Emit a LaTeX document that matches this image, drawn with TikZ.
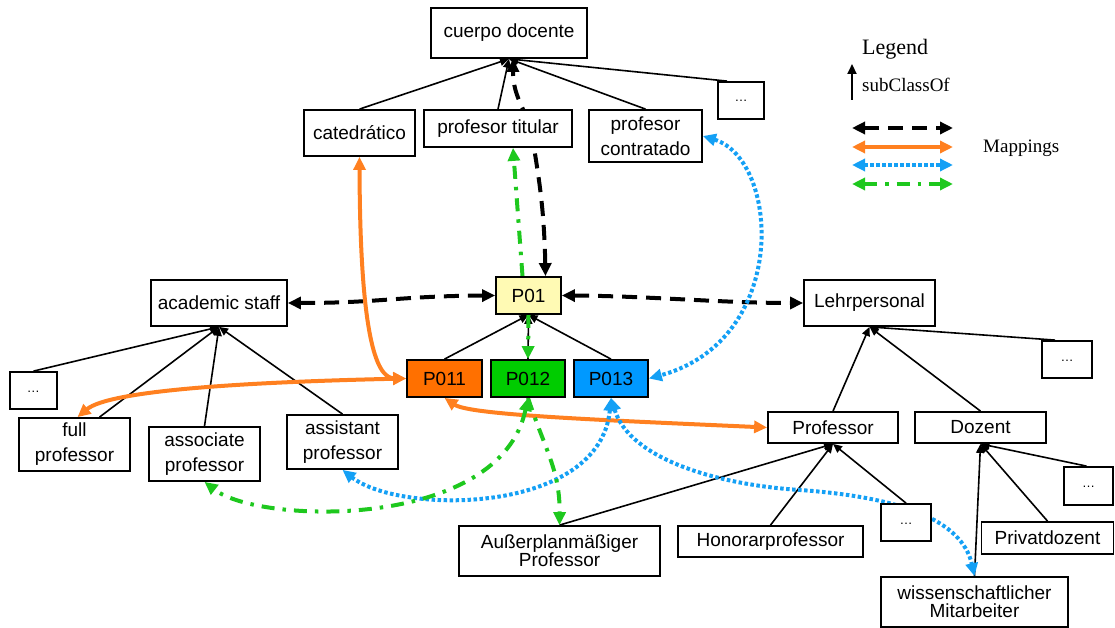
\documentclass[tikz,border=0pt]{standalone}
\usepackage{fontspec}
\setmainfont{Liberation Serif}
\newfontfamily\arialf{Liberation Sans}
\usetikzlibrary{arrows.meta,calc,backgrounds}
\definecolor{pyellow}{RGB}{255,250,180}
\definecolor{porange}{RGB}{255,112,0}
\definecolor{pgreen}{RGB}{0,204,0}
\definecolor{pblue}{RGB}{0,153,255}
\definecolor{lorange}{RGB}{255,128,32}
\definecolor{lblue}{RGB}{20,160,245}
\definecolor{lgreen}{RGB}{30,200,30}
\tikzset{
 box/.style={draw=black, line width=1.8pt, fill=white, inner sep=0pt, align=center, font=\arialf\fontsize{19}{25}\selectfont},
 tbox/.style={box, font=\arialf\fontsize{19}{18}\selectfont},
 dbox/.style={box, font=\arialf\fontsize{13}{15}\selectfont},
 sub/.style={line width=1.6pt, -{Triangle[length=9pt,width=8pt]}},
 tipb/.style={arrows={Triangle[length=13pt,width=12pt]-Triangle[length=13pt,width=12pt]}},
 tipe/.style={arrows={-Triangle[length=13pt,width=12pt]}},
 mblack/.style={line width=4pt, dash pattern=on 15pt off 9pt, black},
 morange/.style={line width=4pt, lorange},
 mblue/.style={line width=4pt, dash pattern=on 3.5pt off 2.5pt, lblue},
 mgreen/.style={line width=4pt, dash pattern=on 13pt off 8pt on 3.5pt off 8pt, lgreen},
 legtext/.style={anchor=base west, inner sep=0pt, font=\fontsize{19}{22}\selectfont},
}
\begin{document}
\begin{tikzpicture}[x=1pt,y=-1pt]
\useasboundingbox (0,0) rectangle (1115,628);
% top ontology
\node[box, minimum width=156pt, minimum height=50pt] (cd) at (509,33) {cuerpo docente};
\node[box, minimum width=111pt, minimum height=46pt] (cat) at (359.5,133) {catedrático};
\node[box, minimum width=148pt, minimum height=37pt] (tit) at (498,128.5) {profesor titular};
\node[box, minimum width=113pt, minimum height=52pt] (con) at (645.5,136) {profesor\\contratado};
\node[dbox, minimum width=46pt, minimum height=37pt] (dots1) at (741,100.5) {\raisebox{-3pt}{\ldots}};
% left ontology
\node[box, minimum width=136pt, minimum height=46pt] (acs) at (219,303) {academic staff};
\node[dbox, minimum width=47pt, minimum height=37pt] (dotsL) at (33.5,390.5) {\raisebox{-3pt}{\ldots}};
\node[box, minimum width=111pt, minimum height=53pt] (full) at (74.5,444.5) {full\\professor};
\node[box, minimum width=111pt, minimum height=54pt] (assoc) at (204.5,454) {associate\\professor};
\node[box, minimum width=111pt, minimum height=54pt] (assist) at (342.5,442) {assistant\\professor};
% central
\node[box, fill=pyellow, minimum width=65pt, minimum height=37pt] (P01) at (528.5,295.5) {P01};
\node[box, fill=porange, minimum width=75pt, minimum height=37pt] (P011) at (444.5,378.5) {P011};
\node[box, fill=pgreen, minimum width=74pt, minimum height=37pt] (P012) at (528,378.5) {P012};
\node[box, fill=pblue, minimum width=74pt, minimum height=37pt] (P013) at (611,378.5) {P013};
% right ontology
\node[box, minimum width=131pt, minimum height=46pt] (lehr) at (869.5,303) {Lehrpersonal};
\node[dbox, minimum width=50pt, minimum height=37pt] (dotsR) at (1067,359.5) {\raisebox{-3pt}{\ldots}};
\node[box, minimum width=130pt, minimum height=31pt] (prof) at (833,427.5) {Professor};
\node[box, minimum width=131pt, minimum height=31pt] (doz) at (980.5,427.5) {Dozent};
\node[dbox, minimum width=49pt, minimum height=38pt] (dotsR2) at (1088.5,486) {\raisebox{-3pt}{\ldots}};
\node[dbox, minimum width=50pt, minimum height=37pt] (dotsM) at (906,522.5) {\raisebox{-3pt}{\ldots}};
\node[box, minimum width=185pt, minimum height=31pt] (hon) at (770.5,541.5) {Honorarprofessor};
\node[box, minimum width=132pt, minimum height=32pt] (priv) at (1047.5,538) {Privatdozent};
\node[tbox, minimum width=187pt, minimum height=50pt] (wiss) at (974.5,602) {wissenschaftlicher\\Mitarbeiter};
\node[tbox, minimum width=201pt, minimum height=50pt] (aus) at (559.5,551) {Außerplanmäßiger\\Professor};

\begin{pgfonlayer}{background}
% subClassOf
\draw[sub] (cat.north) -- (cd.south);
\draw[sub] (tit.north) -- (cd.south);
\draw[sub] (con.north) -- (cd.south);
\draw[sub] ($(dots1.north)+(-14,0)$) -- (cd.south);
\draw[sub] (P011.north) -- (P01.south);
\draw[sub] (P012.north) -- (P01.south);
\draw[sub] (P013.north) -- (P01.south);
\draw[sub] (dotsL.north) -- (acs.south);
\draw[sub] ($(full.north)+(25,0)$) -- (acs.south);
\draw[sub] (assoc.north) -- (acs.south);
\draw[sub] (assist.north) -- (acs.south);
\draw[sub] (prof.north) -- (lehr.south);
\draw[sub] (doz.north) -- (lehr.south);
\draw[sub] ($(dotsR.north)+(-12,0)$) -- (lehr.south);
\draw[sub] (aus.north) -- (prof.south);
\draw[sub] (hon.north) -- (prof.south);
\draw[sub] (dotsM.north) -- (prof.south);
\draw[sub] (wiss.north) -- (doz.south);
\draw[sub] (priv.north) -- (doz.south);
\draw[sub] ($(dotsR2.north)+(-2,0)$) -- (doz.south);
% mappings: black
\draw[mblack,tipb] (acs.east) .. controls (380,303) and (400,296) .. (P01.west);
\draw[mblack,tipb] (P01.east) .. controls (650,296) and (720,303) .. (lehr.west);
\draw[mblack,tipb] ($(P01.north)+(17,0)$) .. controls (544,200) and (537,170) .. (533,140) .. controls (528,110) and (513,100) .. ($(cd.south)+(4,0)$);
% orange
\draw[morange,tipb] (cat.south) .. controls (360,330) and (375,378) .. (P011.west);
\draw[morange,tipb] (P011.west) .. controls (250,382) and (110,390) .. ($(full.north)+(3,0)$);
\draw[morange,tipb] (P011.south) .. controls (470,415) and (600,420) .. (prof.west);
% blue
\draw[mblue,tipb] (con.east) .. controls (780,160) and (790,340) .. (P013.east);
\draw[mblue,tipb] (P013.south) .. controls (600,515) and (400,515) .. (assist.south);
\draw[mblue,tipb] (P013.south) .. controls (630,460) and (720,485) .. (800,490) .. controls (900,497) and (962,520) .. (wiss.north);
% green
\draw[mgreen,tipe] ($(P01.north)+(-6,0)$) -- ($(tit.south)+(15,0)$);
\draw[mgreen,tipe] (P01.south) -- (P012.north);
\draw[mgreen,tipb] (P012.south) .. controls (500,530) and (260,525) .. (assoc.south);
\draw[mgreen,tipe] (P012.south) .. controls (545,450) and (560,470) .. (aus.north);
\end{pgfonlayer}

% legend
\node[legtext, font=\fontsize{22}{24}\selectfont] (leg) at (862,55) {Legend};
\coordinate (sa) at (852,100);
\coordinate (sb) at (852,64);
\draw[line width=2pt, -{Triangle[length=10pt,width=9pt]}] (sa) -- (sb);
\node[legtext] (lsub) at (862,91.5) {subClassOf};
\coordinate (k1a) at (852,128); \coordinate (k1b) at (953,128);
\coordinate (k2a) at (852,147); \coordinate (k2b) at (953,147);
\coordinate (k3a) at (852,165); \coordinate (k3b) at (953,165);
\coordinate (k4a) at (852,184); \coordinate (k4b) at (953,184);
\draw[mblack,tipb] (k1a) -- (k1b);
\draw[morange,tipb] (k2a) -- (k2b);
\draw[mblue,tipb] (k3a) -- (k3b);
\draw[mgreen,tipb] (k4a) -- (k4b);
\node[legtext] (lmap) at (983,153) {Mappings};
\end{tikzpicture}
\end{document}
